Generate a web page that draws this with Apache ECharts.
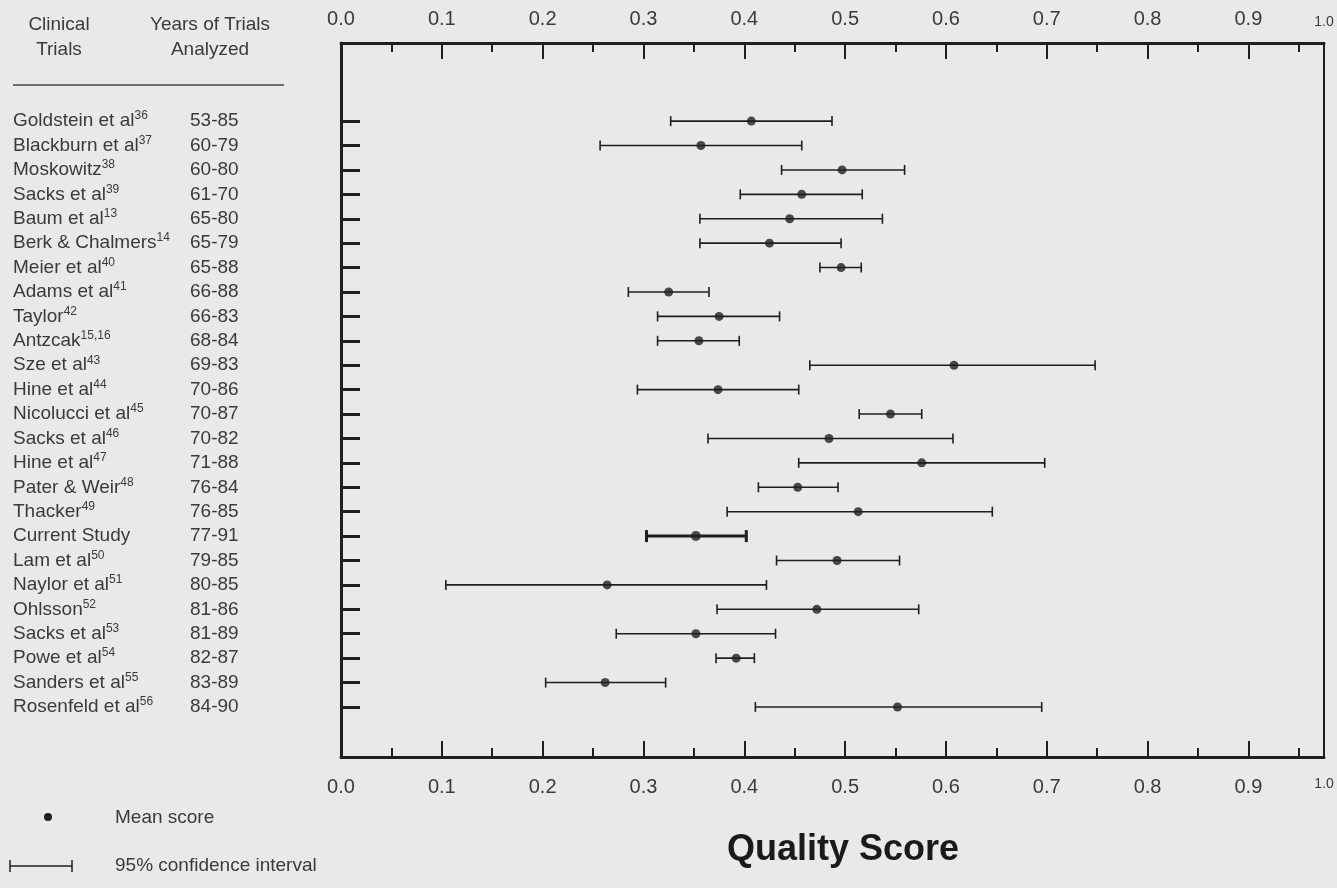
<!DOCTYPE html>
<html>
<head>
<meta charset="utf-8">
<script src="https://cdn.jsdelivr.net/npm/echarts@6/dist/echarts.min.js"></script>
<style>
  html, body { margin: 0; padding: 0; background: #e9e9e9; }
  #chart { width: 1337px; height: 888px; }
</style>
</head>
<body>
<div id="chart"></div>
<script>
// trials, top to bottom
const studies = ['Goldstein et al', 'Blackburn et al', 'Moskowitz', 'Sacks et al', 'Baum et al',
  'Berk & Chalmers', 'Meier et al', 'Adams et al', 'Taylor', 'Antzcak', 'Sze et al', 'Hine et al',
  'Nicolucci et al', 'Sacks et al', 'Hine et al', 'Pater & Weir', 'Thacker', 'Current Study',
  'Lam et al', 'Naylor et al', 'Ohlsson', 'Sacks et al', 'Powe et al', 'Sanders et al', 'Rosenfeld et al']
const refs = ['36', '37', '38', '39', '13', '14', '40', '41', '42', '15,16', '43', '44', '45', '46', '47',
  '48', '49', '', '50', '51', '52', '53', '54', '55', '56']
const years = ['53-85', '60-79', '60-80', '61-70', '65-80', '65-79', '65-88', '66-88', '66-83', '68-84',
  '69-83', '70-86', '70-87', '70-82', '71-88', '76-84', '76-85', '77-91', '79-85', '80-85', '81-86',
  '81-89', '82-87', '83-89', '84-90']
const meanScore = [0.407, 0.357, 0.497, 0.457, 0.445, 0.425, 0.496, 0.325, 0.375, 0.355, 0.608, 0.374,
  0.545, 0.484, 0.576, 0.453, 0.513, 0.352, 0.492, 0.264, 0.472, 0.352, 0.392, 0.262, 0.552]
const ciLow = [0.327, 0.257, 0.437, 0.396, 0.356, 0.356, 0.475, 0.285, 0.314, 0.314, 0.465, 0.294,
  0.514, 0.364, 0.454, 0.414, 0.383, 0.303, 0.432, 0.104, 0.373, 0.273, 0.372, 0.203, 0.411]
const ciHigh = [0.487, 0.457, 0.559, 0.517, 0.537, 0.496, 0.516, 0.365, 0.435, 0.395, 0.748, 0.454,
  0.576, 0.607, 0.698, 0.493, 0.646, 0.402, 0.554, 0.422, 0.573, 0.431, 0.41, 0.322, 0.695]

const ink = '#1f1f1f'
const txt = '#3a3a3a'
const font = 'Liberation Sans'
const rows = studies.map((s, i) => i)
const isCurrent = (i) => studies[i] === 'Current Study'

const scoreAxis = (pos, margin) => ({
  type: 'value',
  position: pos,
  min: 0,
  max: 0.975,
  interval: 0.1,
  axisLine: { show: true, onZero: false, lineStyle: { color: ink, width: 3 } },
  axisTick: { show: true, inside: true, length: 16, lineStyle: { color: ink, width: 2 } },
  minorTick: { show: true, splitNumber: 2, length: 9, lineStyle: { color: ink, width: 2 } },
  splitLine: { show: false },
  axisLabel: {
    margin: margin,
    fontSize: 20,
    fontFamily: font,
    color: txt,
    showMaxLabel: true,
    formatter: (v) => v > 0.95 ? '{e|1.0}' : v.toFixed(1),
    rich: { e: { fontSize: 14, fontFamily: font, color: txt } }
  }
})

const myChart = echarts.init(document.getElementById('chart'))
myChart.setOption({
  backgroundColor: '#e9e9e9',
  animation: false,
  title: {
    text: 'Quality Score',
    left: 727,
    top: 832,
    padding: 0,
    textStyle: { fontSize: 36, fontWeight: 'bold', fontFamily: font, color: '#1a1a1a' }
  },
  grid: {
    left: 341, right: 13, top: 43, bottom: 131,
    show: true, borderColor: ink, borderWidth: 2, backgroundColor: 'transparent'
  },
  xAxis: [scoreAxis('bottom', 20), scoreAxis('top', 14)],
  yAxis: [
    {
      type: 'value',
      inverse: true,
      min: -3.2,
      max: 26.05,
      position: 'left',
      axisLine: { show: true, onZero: false, lineStyle: { color: ink, width: 3 } },
      axisTick: { show: true, inside: true, length: 19, customValues: rows, lineStyle: { color: ink, width: 3 } },
      splitLine: { show: false },
      axisLabel: {
        customValues: rows,
        align: 'left',
        margin: 328,
        formatter: (v) => refs[v] ? '{n|' + studies[v] + '}{s|' + refs[v] + '}' : '{n|' + studies[v] + '}',
        rich: {
          n: { fontSize: 19, lineHeight: 22, fontFamily: font, color: txt },
          s: { fontSize: 12, lineHeight: 16, verticalAlign: 'top', fontFamily: font, color: txt }
        }
      }
    },
    {
      type: 'value',
      inverse: true,
      min: -3.2,
      max: 26.05,
      position: 'left',
      axisLine: { show: false },
      axisTick: { show: false },
      splitLine: { show: false },
      axisLabel: {
        customValues: rows,
        align: 'left',
        margin: 151,
        fontSize: 19,
        fontFamily: font,
        color: txt,
        formatter: (v) => years[v]
      }
    }
  ],
  graphic: [
    { type: 'text', x: 59, y: 12, style: { text: 'Clinical\nTrials', align: 'center', verticalAlign: 'top', fill: txt, font: '19px "Liberation Sans"', lineHeight: 25 } },
    { type: 'text', x: 210, y: 12, style: { text: 'Years of Trials\nAnalyzed', align: 'center', verticalAlign: 'top', fill: txt, font: '19px "Liberation Sans"', lineHeight: 25 } },
    { type: 'line', shape: { x1: 13, y1: 85, x2: 284, y2: 85 }, style: { stroke: '#444', lineWidth: 1.5 } },
    { type: 'circle', shape: { cx: 48, cy: 817, r: 4 }, style: { fill: ink } },
    { type: 'text', x: 115, y: 818, style: { text: 'Mean score', verticalAlign: 'middle', fill: txt, font: '19px "Liberation Sans"' } },
    { type: 'line', shape: { x1: 10, y1: 866, x2: 72, y2: 866 }, style: { stroke: ink, lineWidth: 1.5 } },
    { type: 'line', shape: { x1: 10, y1: 860, x2: 10, y2: 872 }, style: { stroke: ink, lineWidth: 1.5 } },
    { type: 'line', shape: { x1: 72, y1: 860, x2: 72, y2: 872 }, style: { stroke: ink, lineWidth: 1.5 } },
    { type: 'text', x: 115, y: 866, style: { text: '95% confidence interval', verticalAlign: 'middle', fill: txt, font: '19px "Liberation Sans"' } }
  ],
  series: [
    {
      name: '95% confidence interval',
      type: 'custom',
      xAxisIndex: 0,
      yAxisIndex: 0,
      encode: { x: [0, 1], y: 2 },
      data: rows.map((i) => [ciLow[i], ciHigh[i], i, isCurrent(i) ? 1 : 0]),
      renderItem: function (params, api) {
        const lo = api.coord([api.value(0), api.value(2)])
        const hi = api.coord([api.value(1), api.value(2)])
        const bold = api.value(3) === 1
        const st = { stroke: ink, lineWidth: bold ? 3 : 1.6 }
        const h = bold ? 6 : 5
        return {
          type: 'group',
          children: [
            { type: 'line', shape: { x1: lo[0], y1: lo[1], x2: hi[0], y2: hi[1] }, style: st },
            { type: 'line', shape: { x1: lo[0], y1: lo[1] - h, x2: lo[0], y2: lo[1] + h }, style: st },
            { type: 'line', shape: { x1: hi[0], y1: hi[1] - h, x2: hi[0], y2: hi[1] + h }, style: st }
          ]
        }
      }
    },
    {
      name: 'Mean score',
      type: 'scatter',
      xAxisIndex: 0,
      yAxisIndex: 0,
      symbol: 'circle',
      symbolSize: (v, p) => isCurrent(p.dataIndex) ? 10 : 9,
      itemStyle: { color: ink },
      z: 3,
      data: rows.map((i) => [meanScore[i], i])
    }
  ]
})
myChart.resize()
</script>
</body>
</html>
